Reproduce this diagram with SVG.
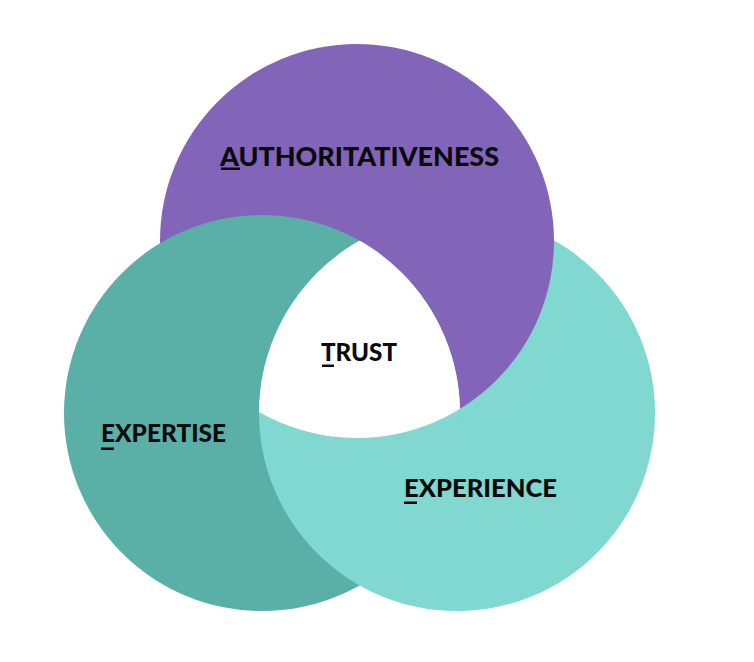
<svg xmlns="http://www.w3.org/2000/svg" width="754" height="662" viewBox="0 0 754 662">
  <style>
    .lbl { font-family: "Lato", "Liberation Sans", sans-serif; font-weight: 900; fill: #0a0a0a; }
    .ul { fill: #0a0a0a; }
  </style>
  <defs>
    <clipPath id="clipL"><circle cx="262" cy="413" r="198"/></clipPath>
    <clipPath id="clipR"><circle cx="457" cy="413" r="198"/></clipPath>
  </defs>
  <rect width="754" height="662" fill="#ffffff"/>
  <g id="experience-circle">
    <circle cx="457" cy="413" r="198" fill="#80d8d1"/>
  </g>
  <g id="authoritativeness-circle">
    <circle cx="357" cy="241" r="197" fill="#8264b9"/>
  </g>
  <g id="expertise-circle">
    <circle cx="262" cy="413" r="198" fill="#5aafa7"/>
  </g>
  <g id="overlap-experience-expertise">
    <g clip-path="url(#clipL)">
      <circle cx="457" cy="413" r="198" fill="#80d8d1"/>
    </g>
    <path d="M459.9,419.9 A198,198 0 0 1 359.5,585.33" fill="none" stroke="#80d8d1" stroke-width="1.6"/>
  </g>
  <g id="trust-center" clip-path="url(#clipL)">
    <circle cx="357" cy="241" r="197" fill="#ffffff" clip-path="url(#clipR)"/>
  </g>
  <g id="connectors"></g>
  <g id="label-authoritativeness">
    <text class="lbl" x="220" y="166" font-size="27" textLength="279" lengthAdjust="spacingAndGlyphs">AUTHORITATIVENESS</text>
    <rect class="ul" x="221" y="167.5" width="19" height="2.5"/>
  </g>
  <g id="label-trust">
    <text class="lbl" x="321" y="361" font-size="24" textLength="76" lengthAdjust="spacingAndGlyphs">TRUST</text>
    <rect class="ul" x="322" y="364.5" width="12" height="2.5"/>
  </g>
  <g id="label-expertise">
    <text class="lbl" x="101" y="442" font-size="24" textLength="125" lengthAdjust="spacingAndGlyphs">EXPERTISE</text>
    <rect class="ul" x="101" y="447.5" width="13" height="2.5"/>
  </g>
  <g id="label-experience">
    <text class="lbl" x="404" y="497" font-size="25" textLength="153" lengthAdjust="spacingAndGlyphs">EXPERIENCE</text>
    <rect class="ul" x="404" y="501.5" width="13" height="2.5"/>
  </g>
</svg>
